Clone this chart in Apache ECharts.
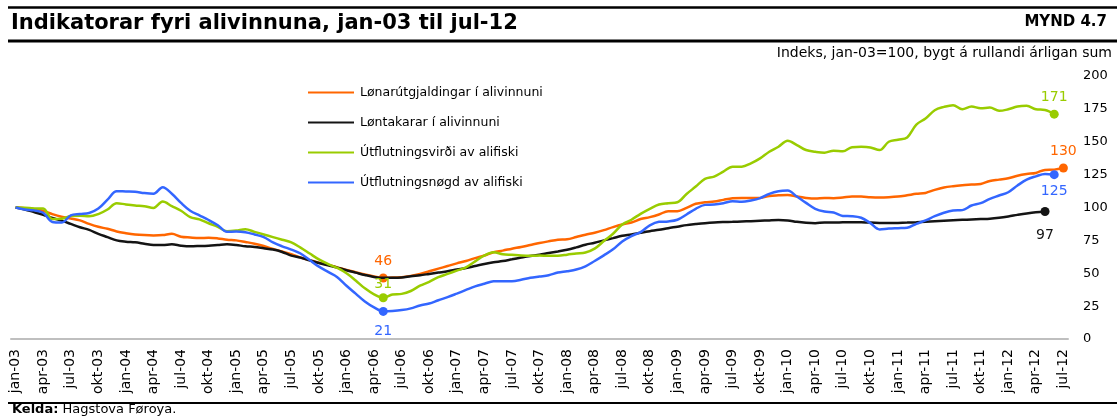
<!DOCTYPE html>
<html>
<head>
<meta charset="utf-8">
<script src="https://cdn.jsdelivr.net/npm/echarts@6/dist/echarts.min.js"></script>
<style>
  html, body { margin: 0; padding: 0; background: #fff; }
  #main { width: 1117px; height: 416px; }
</style>
</head>
<body>
<div id="main"></div>
<script>
// Indikatorar fyri alivinnuna, jan-03 til jul-12 (MYND 4.7)
var monthNames = ['jan', 'feb', 'mar', 'apr', 'mai', 'jun', 'jul', 'aug', 'sep', 'okt', 'nov', 'des'];
var years = ['03', '04', '05', '06', '07', '08', '09', '10', '11', '12'];
var lastMonth = 6; // jul-12

// Lønarútgjaldingar í alivinnuni (jan-03 .. jul-12)
var wages = [
	100, 99.5, 98.8, 97.5, 95, 93, 91.7, 90.2, 87.5, 85.3,
	83.8, 81.8, 80.5, 79.5, 79, 78.8, 79, 80, 77.8, 77.2,
	76.8, 77, 76.5, 75.5, 75, 73.8, 72.5, 70.7, 68.5, 66.5,
	64.5, 62, 60, 58, 56.5, 54.5, 52.5, 50.8, 49, 47.5,
	46.4, 46.8, 47, 48, 49.5, 51.5, 53.5, 55.5, 57.5, 59.3,
	61.5, 63.5, 66, 67.2, 68.7, 70, 71.5, 73, 74.3, 75.5,
	75.8, 77.5, 79.3, 80.8, 82.8, 85.1, 87.1, 88.6, 91.2, 92.7,
	94.7, 97.2, 97.2, 99.7, 102.8, 104, 104.5, 105.8, 107, 107.3,
	107.3, 107.3, 108.8, 109.3, 109.6, 108.3, 107.3, 106.8, 107.3, 107.1,
	107.6, 108.3, 108.3, 107.8, 107.6, 107.8, 108.3, 109.3, 110.4, 111.1,
	113.4, 115.2, 116.2, 116.9, 117.4, 117.9, 120.2, 121.2, 122.2, 124.2,
	125.5, 126.3, 128.6, 128.8, 130
];

// Løntakarar í alivinnuni (jan-03 .. mai-12)
var employees = [
	100, 98.5, 96.5, 94.5, 92, 90, 87.5, 85, 83, 80,
	77.5, 75, 74, 73.5, 72.5, 71.5, 71.5, 72, 71, 70.5,
	70.7, 71, 71.5, 72, 71.5, 70.5, 70, 69, 68, 66.2,
	63.4, 61.9, 59.8, 57.8, 56, 54.3, 52.3, 50.5, 48.7, 47.2,
	46.5, 46.5, 46.7, 47.7, 48.5, 49.5, 50.5, 51.5, 52.8, 54,
	55.5, 57, 58.3, 59.3, 60.6, 61.9, 63.1, 64.1, 65.4, 66.6,
	67.9, 69.7, 71.7, 73.2, 75, 76.7, 78.5, 79.5, 80.8, 82,
	83, 84.3, 85.4, 86.6, 87.4, 88.1, 88.6, 88.9, 89.1, 89.4,
	89.6, 89.9, 90.2, 90.4, 90.2, 89.1, 88.4, 88.1, 88.6, 88.5,
	88.7, 88.8, 88.7, 88.5, 88.3, 88.2, 88.3, 88.5, 88.8, 89.2,
	89.6, 90, 90.3, 90.6, 90.9, 91.2, 91.5, 92.2, 93.2, 94.4,
	95.5, 96.4, 97
];

// Útflutningsvirði av alifiski (jan-03 .. jun-12)
var exportValue = [
	100, 99.8, 99.3, 99.2, 91.2, 91.5, 93.5, 93.8, 93.3, 95,
	98.5, 103.3, 102.3, 101.5, 101, 99.7, 104.5, 101, 97.5, 92.7,
	91, 88, 85.3, 82, 82.5, 83.5, 81.5, 79.5, 77.5, 75.5,
	73.5, 69.5, 65, 60.5, 57, 54, 50, 44.5, 38.5, 34,
	31.4, 33.8, 34.3, 36.5, 40.5, 43.5, 47, 49.5, 52, 54.5,
	59, 63.5, 66, 64.5, 64, 63.5, 63.3, 63.5, 63.3, 63.3,
	64.1, 65.1, 65.8, 68.7, 74.5, 80, 87.1, 90.7, 95.2, 99,
	102.3, 103.3, 104, 110.3, 115.9, 121.7, 123.5, 127.3, 131, 131,
	133.6, 137.4, 142.4, 146.2, 150.8, 147.5, 143.7, 142.4, 141.7, 143.2,
	142.7, 145.9, 146.2, 145.7, 143.7, 150, 151.5, 153.3, 163, 167.7,
	174, 176.5, 177.8, 174.7, 176.8, 175.5, 176, 173.5, 174.7, 176.8,
	177.3, 174.7, 174.2, 171
];

// Útflutningsnøgd av alifiski (jan-03 .. jun-12)
var exportVolume = [
	100, 98.5, 97.8, 96, 89, 88.5, 94, 95, 95.8, 99.2,
	106, 112.4, 112.2, 112, 111, 110.5, 115.4, 110.5, 103.5, 97.5,
	94, 90.5, 86.5, 81.5, 81.8, 81.2, 79.5, 77.5, 73.5, 70.5,
	68, 65, 60, 55, 51, 47, 40.5, 34.5, 28.5, 24,
	21, 21.3, 22, 23.3, 25.5, 27, 29.5, 31.8, 34.5, 37.3,
	40, 42, 43.9, 44, 44, 45, 46.5, 47.5, 48.5, 50.5,
	51.5, 52.8, 55.3, 59.3, 63.6, 68.2, 74.2, 78.3, 81.3, 86.4,
	89.1, 89.4, 90.7, 94.7, 99, 102, 102.3, 103.3, 104.8, 104.3,
	105.3, 107.1, 110.4, 112.4, 112.9, 108.3, 103.5, 99, 96.9, 96.2,
	93.6, 93.4, 92.2, 88.1, 83.3, 84, 84.3, 84.6, 87.6, 90.2,
	93.4, 96, 97.7, 98, 101.5, 103.3, 106.6, 109.1, 111.6, 116.7,
	121.2, 123.7, 125.5, 125
];

var seriesNames = ['Lønarútgjaldingar í alivinnuni', 'Løntakarar í alivinnuni', 'Útflutningsvirði av alifiski', 'Útflutningsnøgd av alifiski'];
var seriesColors = ['#ff6600', '#141414', '#99cc00', '#3366ff'];
var yTicks = [0, 25, 50, 75, 100, 125, 150, 175, 200];

// merktir punktir: lágmark (mai-06) og seinasta virði
var lowIndex = 40;
var markedPoints = [
	[{ i: lowIndex, pos: 'top', dist: 5 }, { i: wages.length - 1, pos: 'top', dist: 5 }],
	[{ i: employees.length - 1, pos: 'bottom', dist: 12 }],
	[{ i: lowIndex, pos: 'top', dist: 2 }, { i: exportValue.length - 1, pos: 'top', dist: 5 }],
	[{ i: lowIndex, pos: 'bottom', dist: 8 }, { i: exportVolume.length - 1, pos: 'bottom', dist: 5 }]
];

var categories = [];
for (var y = 0; y < years.length; y++) {
	for (var m = 0; m < 12; m++) {
		if (y === years.length - 1 && m > lastMonth) break;
		categories.push(monthNames[m] + '-' + years[y]);
	}
}

var font = 'DejaVu Sans';

function buildData(values, marks, color) {
	var data = values.map(function(v) { return v; });
	marks.forEach(function(mk) {
		data[mk.i] = {
			value: values[mk.i],
			symbol: 'circle',
			symbolSize: 9,
			itemStyle: { color: color },
			label: {
				show: true,
				position: mk.pos,
				distance: mk.dist,
				color: color,
				fontFamily: font,
				fontSize: 14,
				formatter: function(p) { return Math.round(p.value); }
			}
		};
	});
	return data;
}

var allValues = [wages, employees, exportValue, exportVolume];
var series = allValues.map(function(vals, k) {
	return {
		name: seriesNames[k],
		type: 'line',
		data: buildData(vals, markedPoints[k], seriesColors[k]),
		symbol: 'none',
		smooth: 0.35,
		lineStyle: { color: seriesColors[k], width: 2.5 },
		itemStyle: { color: seriesColors[k] },
		z: 2 + k
	};
});

// ein legend fyri hvørja røð, so línurnar standa 30px frá hvørjari aðrari
var legends = seriesNames.map(function(name, k) {
	return {
		left: 308,
		top: 86 + k * 30,
		padding: 0,
		icon: 'rect',
		itemWidth: 46,
		itemHeight: 2,
		itemGap: 0,
		data: [name],
		textStyle: { fontFamily: font, fontSize: 12.5, color: '#000', padding: [0, 0, 0, 1] }
	};
});

var chart = echarts.init(document.getElementById('main'));

chart.setOption({
	animation: false,
	backgroundColor: '#fff',
	title: [{
		text: 'Indikatorar fyri alivinnuna, jan-03 til jul-12',
		left: 11, top: 13, padding: 0,
		textStyle: { fontFamily: font, fontWeight: 'bold', fontSize: 21, color: '#000' }
	}, {
		text: 'MYND 4.7',
		right: 10, top: 15, padding: 0,
		textStyle: { fontFamily: font, fontWeight: 'bold', fontSize: 15, color: '#000' }
	}, {
		text: 'Indeks, jan-03=100, bygt á rullandi árligan sum',
		right: 5, top: 46, padding: 0,
		textStyle: { fontFamily: font, fontWeight: 'normal', fontSize: 14, color: '#000' }
	}, {
		text: '{b|Kelda:} Hagstova Føroya.',
		left: 12, top: 403, padding: 0,
		textStyle: {
			fontFamily: font, fontWeight: 'normal', fontSize: 13, color: '#000',
			rich: { b: { fontFamily: font, fontWeight: 'bold', fontSize: 13, color: '#000' } }
		}
	}],
	graphic: [
		{ type: 'line', shape: { x1: 8, y1: 7.5, x2: 1117, y2: 7.5 }, style: { stroke: '#000', lineWidth: 2.5 } },
		{ type: 'line', shape: { x1: 8, y1: 41, x2: 1117, y2: 41 }, style: { stroke: '#000', lineWidth: 3 } },
		{ type: 'line', shape: { x1: 8, y1: 403, x2: 1117, y2: 403 }, style: { stroke: '#000', lineWidth: 2 } }
	],
	legend: legends,
	grid: {
		left: 11,
		right: 49,
		top: 76,
		bottom: 77
	},
	xAxis: {
		type: 'category',
		data: categories,
		boundaryGap: true,
		axisLine: { lineStyle: { color: '#bfbfbf', width: 2 } },
		axisTick: { interval: 2, inside: true, length: 5, lineStyle: { color: '#bfbfbf', width: 1.5 } },
		axisLabel: {
			interval: 2,
			rotate: 90,
			margin: 10,
			fontFamily: font,
			fontSize: 14,
			color: '#000'
		},
		splitLine: { show: false }
	},
	yAxis: {
		type: 'value',
		position: 'right',
		min: yTicks[0],
		max: yTicks[yTicks.length - 1],
		interval: 25,
		axisLine: { show: false },
		axisTick: { show: false },
		splitLine: { show: false },
		axisLabel: {
			margin: 15,
			align: 'left',
			fontFamily: font,
			fontSize: 13,
			color: '#000'
		}
	},
	series: series
});
</script>
</body>
</html>
